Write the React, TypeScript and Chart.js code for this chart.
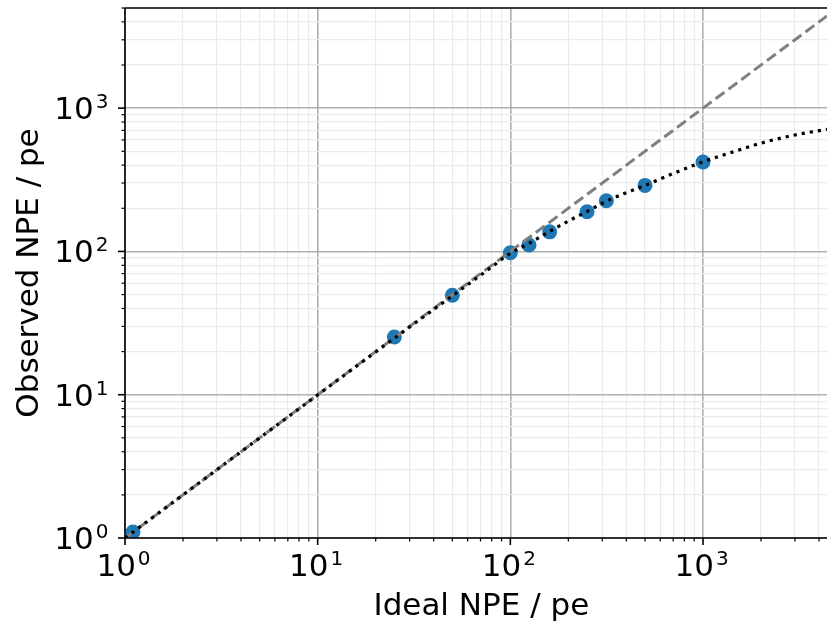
import React, { useEffect, useRef } from 'react';
import { Chart, registerables } from 'chart.js';

Chart.register(...registerables);

// Measured data points (Ideal NPE vs Observed NPE)
const idealNpe = [1.1, 25, 50, 100, 125, 160, 250, 315, 500, 1000];
const observedNpe = [1.1, 25.3, 49.5, 98, 111, 137, 189, 226, 289, 421];

// Fitted (saturation) curve
const fitIdeal = [1, 10, 25, 50, 75, 100, 125, 160, 200, 250, 315, 400, 500, 700, 1000, 1500, 2000, 3000, 4400];
const fitObserved = [1, 9.97, 24.8, 49, 73, 97, 114, 138, 163, 190, 224, 257, 289, 350, 422, 505, 570, 650, 712];

// Identity line (Observed = Ideal)
const identityX = [1, 4400];
const identityY = [1, 4400];

// Axes
const xMin = 1;
const xMax = 4400;
const yMin = 1;
const yMax = 5000;
const decadeTicks = [1, 10, 100, 1000];
const decadeExponents = [0, 1, 2, 3];
const minorMultipliers = [2, 3, 4, 5, 6, 7, 8, 9];

const FONT = '"DejaVu Sans", sans-serif';

function buildTicks(min: number, max: number) {
  const ticks: { value: number; major: boolean }[] = [];
  decadeTicks.forEach((d) => {
    if (d >= min && d <= max) ticks.push({ value: d, major: true });
    minorMultipliers.forEach((m) => {
      const v = m * d;
      if (v >= min && v <= max) ticks.push({ value: v, major: false });
    });
  });
  return ticks.sort((a, b) => a.value - b.value);
}

function drawPow(ctx: CanvasRenderingContext2D, exp: number, x: number, y: number, align: 'center' | 'right') {
  const base = '10';
  const sup = String(exp);
  ctx.font = `31px ${FONT}`;
  const bw = ctx.measureText(base).width;
  ctx.font = `20px ${FONT}`;
  const sw = ctx.measureText(sup).width;
  const gap = 2;
  const total = bw + gap + sw;
  const start = align === 'center' ? x - total / 2 - 1.5 : x - total;
  ctx.textAlign = 'left';
  ctx.textBaseline = 'alphabetic';
  ctx.fillStyle = '#000';
  ctx.font = `31px ${FONT}`;
  ctx.fillText(base, start, y);
  ctx.font = `20px ${FONT}`;
  ctx.fillText(sup, start + bw + gap, y - 11);
}

const axesPlugin = {
  id: 'mplAxes',
  afterDraw(chart: any) {
    const { ctx, chartArea, scales } = chart;
    const xs = scales.x;
    const ys = scales.y;
    const { left, right, top, bottom } = chartArea;
    ctx.save();
    // spines
    ctx.strokeStyle = '#000';
    ctx.lineWidth = 1.6;
    ctx.beginPath();
    ctx.moveTo(left, top);
    ctx.lineTo(left, bottom);
    ctx.lineTo(right + 2, bottom);
    ctx.moveTo(left, top);
    ctx.lineTo(right + 2, top);
    ctx.stroke();

    // ticks
    xs.ticks.forEach((t: any) => {
      const px = xs.getPixelForValue(t.value);
      ctx.lineWidth = t.major ? 1.6 : 1.2;
      ctx.beginPath();
      ctx.moveTo(px, bottom);
      ctx.lineTo(px, bottom + (t.major ? 7 : 3.5));
      ctx.stroke();
    });
    ys.ticks.forEach((t: any) => {
      const py = ys.getPixelForValue(t.value);
      ctx.lineWidth = t.major ? 1.6 : 1.2;
      ctx.beginPath();
      ctx.moveTo(left, py);
      ctx.lineTo(left - (t.major ? 7 : 3.5), py);
      ctx.stroke();
    });

    // tick labels
    decadeTicks.forEach((d, i) => {
      const px = xs.getPixelForValue(d);
      drawPow(ctx, decadeExponents[i], px, bottom + 38, 'center');
      const py = ys.getPixelForValue(d);
      drawPow(ctx, decadeExponents[i], 108.5, py + 11, 'right');
    });

    // axis titles
    ctx.fillStyle = '#000';
    ctx.font = `31px ${FONT}`;
    ctx.textAlign = 'center';
    ctx.textBaseline = 'alphabetic';
    const fullRight = xs.getPixelForValue(5000);
    ctx.fillText('Ideal NPE / pe', (left + fullRight) / 2, 615);

    ctx.translate(37.5, (top + bottom) / 2);
    ctx.rotate(-Math.PI / 2);
    ctx.fillText('Observed NPE / pe', 0, 0);
    ctx.restore();
  },
};

export default function App() {
  const ref = useRef<HTMLCanvasElement>(null);

  useEffect(() => {
    document.body.style.margin = '0';
    const canvas = ref.current!;
    const toXY = (xs: number[], ys: number[]) => xs.map((x, i) => ({ x, y: ys[i] }));

    const gridColor = (c: any) => (c.tick && c.tick.major ? '#b0b0b0' : '#ebebeb');
    const gridWidth = (c: any) => (c.tick && c.tick.major ? 1.6 : 1.2);

    const chart = new Chart(canvas, {
      type: 'scatter',
      data: {
        datasets: [
          {
            label: 'Fit',
            data: toXY(fitIdeal, fitObserved),
            showLine: true,
            borderColor: '#000000',
            backgroundColor: '#000000',
            borderWidth: 3.2,
            borderDash: [3.2, 5],
            pointRadius: 0,
            pointHoverRadius: 0,
            cubicInterpolationMode: 'monotone',
            order: 1,
          } as any,
          {
            label: 'Ideal',
            data: toXY(identityX, identityY),
            showLine: true,
            borderColor: '#808080',
            backgroundColor: '#808080',
            borderWidth: 3,
            borderDash: [11, 5],
            pointRadius: 0,
            pointHoverRadius: 0,
            order: 2,
          } as any,
          {
            label: 'Data',
            data: toXY(idealNpe, observedNpe),
            showLine: false,
            pointRadius: 7.5,
            pointHoverRadius: 7.5,
            backgroundColor: '#1f77b4',
            borderColor: '#1f77b4',
            borderWidth: 0,
            order: 3,
          } as any,
        ],
      },
      options: {
        responsive: false,
        animation: false,
        events: [],
        layout: { autoPadding: false, padding: { top: 8, right: 0, left: 0, bottom: 0 } },
        plugins: {
          legend: { display: false },
          tooltip: { enabled: false },
        },
        scales: {
          x: {
            type: 'logarithmic',
            min: xMin,
            max: xMax,
            afterBuildTicks: (s: any) => {
              s.ticks = buildTicks(xMin, xMax);
            },
            afterFit: (s: any) => {
              s.height = 89;
              s.paddingLeft = 0;
              s.paddingRight = 0;
            },
            ticks: { display: false },
            grid: { color: gridColor, lineWidth: gridWidth, drawTicks: false },
            border: { display: false },
          },
          y: {
            type: 'logarithmic',
            min: yMin,
            max: yMax,
            afterBuildTicks: (s: any) => {
              s.ticks = buildTicks(yMin, yMax);
            },
            afterFit: (s: any) => {
              s.width = 125;
              s.paddingTop = 0;
              s.paddingBottom = 0;
            },
            ticks: { display: false },
            grid: { color: gridColor, lineWidth: gridWidth, drawTicks: false },
            border: { display: false },
          },
        },
      } as any,
      plugins: [axesPlugin],
    });
    return () => chart.destroy();
  }, []);

  return (
    <div style={{ position: 'absolute', left: 0, top: 0, width: 827, height: 627, background: '#fff' }}>
      <canvas ref={ref} width={827} height={627} style={{ display: 'block' }} />
    </div>
  );
}
